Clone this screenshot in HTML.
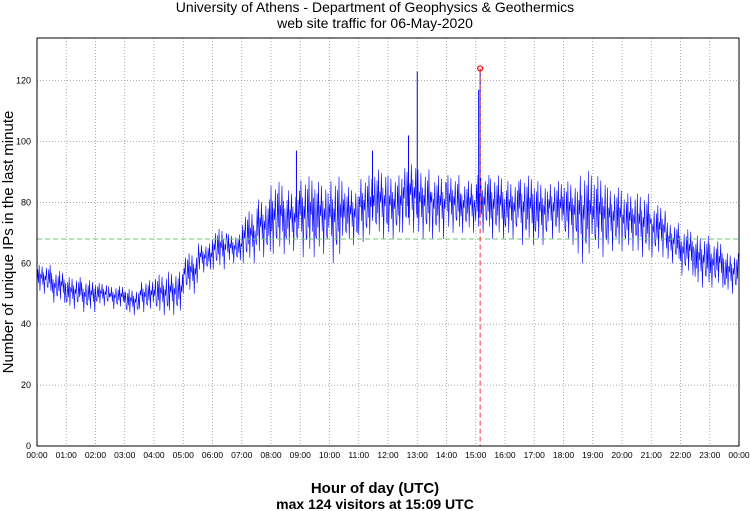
<!DOCTYPE html>
<html><head><meta charset="utf-8"><style>
body{margin:0;background:#fff;}
svg{display:block;font-family:"Liberation Sans",sans-serif;}
</style></head><body>
<svg id="chart" width="750" height="511">
<text x="375" y="12" text-anchor="middle" font-size="14">University of Athens - Department of Geophysics &amp; Geothermics</text>
<text x="375" y="28" text-anchor="middle" font-size="14">web site traffic for 06-May-2020</text>
<text x="375" y="493" text-anchor="middle" font-size="15" font-weight="bold">Hour of day (UTC)</text>
<text x="375" y="509" text-anchor="middle" font-size="14" font-weight="bold">max 124 visitors at 15:09 UTC</text>
<text transform="translate(13,242) rotate(-90)" text-anchor="middle" font-size="15">Number of unique IPs in the last minute</text>
<g id="grid"></g><g id="series"></g><g id="axes"></g>
</svg>
<script>
const yTicks=[0,20,40,60,80,100,120];
const xTickLabels=["00:00","01:00","02:00","03:00","04:00","05:00","06:00","07:00","08:00","09:00","10:00","11:00","12:00","13:00","14:00","15:00","16:00","17:00","18:00","19:00","20:00","21:00","22:00","23:00","00:00"];
// half-hour band lows/highs
const lowValues=[50,47,45,44,46,45,43,44,43,43,50,57,58,60,60,62,63,64,62,63,60,66,67,68,68,70,68,68,70,70,70,68,68,66,66,68,66,60,62,64,64,62,62,60,56,52,52,50];
const highValues=[60,58,56,55,54,53,52,55,57,58,64,67,72,70,78,82,88,85,90,88,90,86,90,92,90,95,92,90,90,88,90,90,88,90,88,88,88,92,90,86,84,84,80,74,72,70,68,64];
const spikeTimes=[8.87,11.47,12.7,13.0,15.15,15.1];
const spikeValues=[97,97,102,123,124,117];
const meanValue=68;
const maxTime=15.15, maxValue=124;
const X0=37,X1=739,Y0=446,YMAX=134,Ytop=38;
const xs=h=>X0+h/24*(X1-X0);
const ys=v=>Y0-v/YMAX*(Y0-Ytop);
const NS="http://www.w3.org/2000/svg";
function mk(t,a,p){const e=document.createElementNS(NS,t);for(const k in a)e.setAttribute(k,a[k]);p.appendChild(e);return e;}
const grid=document.getElementById('grid'),axes=document.getElementById('axes'),ser=document.getElementById('series');
yTicks.forEach(v=>{
 const l=mk('line',{x1:X0,x2:X1,y1:ys(v),y2:ys(v),stroke:'#999','stroke-dasharray':'1,2','stroke-width':0.8},grid);
 
 
 const t=mk('text',{x:X0-6,y:ys(v)+3,'text-anchor':'end','font-size':9},axes);t.textContent=v;
 
 
});
xTickLabels.forEach((s,i)=>{
 const l=mk('line',{x1:xs(i),x2:xs(i),y1:Ytop,y2:Y0,stroke:'#999','stroke-dasharray':'1,2','stroke-width':0.8},grid);
 
 
 const t=mk('text',{x:xs(i),y:Y0+12,'text-anchor':'middle','font-size':8.5},axes);t.textContent=s;
 
 
});
const frame=mk('rect',{x:X0,y:Ytop,width:X1-X0,height:Y0-Ytop,fill:'none',stroke:'#000','stroke-width':1},axes);


const pat=[0.2,0.8,0.35,0.95,0.1,0.65,0.5,0.9,0.3,0.7,0.0,0.6,0.45,0.85,0.25];
let pts=[];const steps=20;
lowValues.forEach((lo,i)=>{const hi=highValues[i];
 for(let k=0;k<steps;k++){const h=(i+k/steps)/2;const f=pat[(i*7+k)%pat.length];pts.push(xs(h).toFixed(2)+','+ys(lo+(hi-lo)*f).toFixed(2));}});
const line=mk('polyline',{points:pts.join(' '),fill:'none',stroke:'#0000ff','stroke-width':0.6},ser);


spikeTimes.forEach((h,i)=>{
 const s=mk('line',{x1:xs(h),x2:xs(h),y1:ys(75),y2:ys(spikeValues[i]),stroke:'#0000ff','stroke-width':1},ser);
 
 
});
const m=mk('line',{x1:X0,x2:X1,y1:ys(meanValue),y2:ys(meanValue),stroke:'#66cc66','stroke-dasharray':'5,3','stroke-width':1},ser);


const v=mk('line',{x1:xs(maxTime),x2:xs(maxTime),y1:ys(maxValue),y2:Y0,stroke:'#ff3333','stroke-dasharray':'5,3','stroke-width':1},ser);


const c=mk('circle',{cx:xs(maxTime),cy:ys(maxValue),r:2.5,fill:'none',stroke:'#ff0000','stroke-width':1.2},ser);


</script>
</body></html>
